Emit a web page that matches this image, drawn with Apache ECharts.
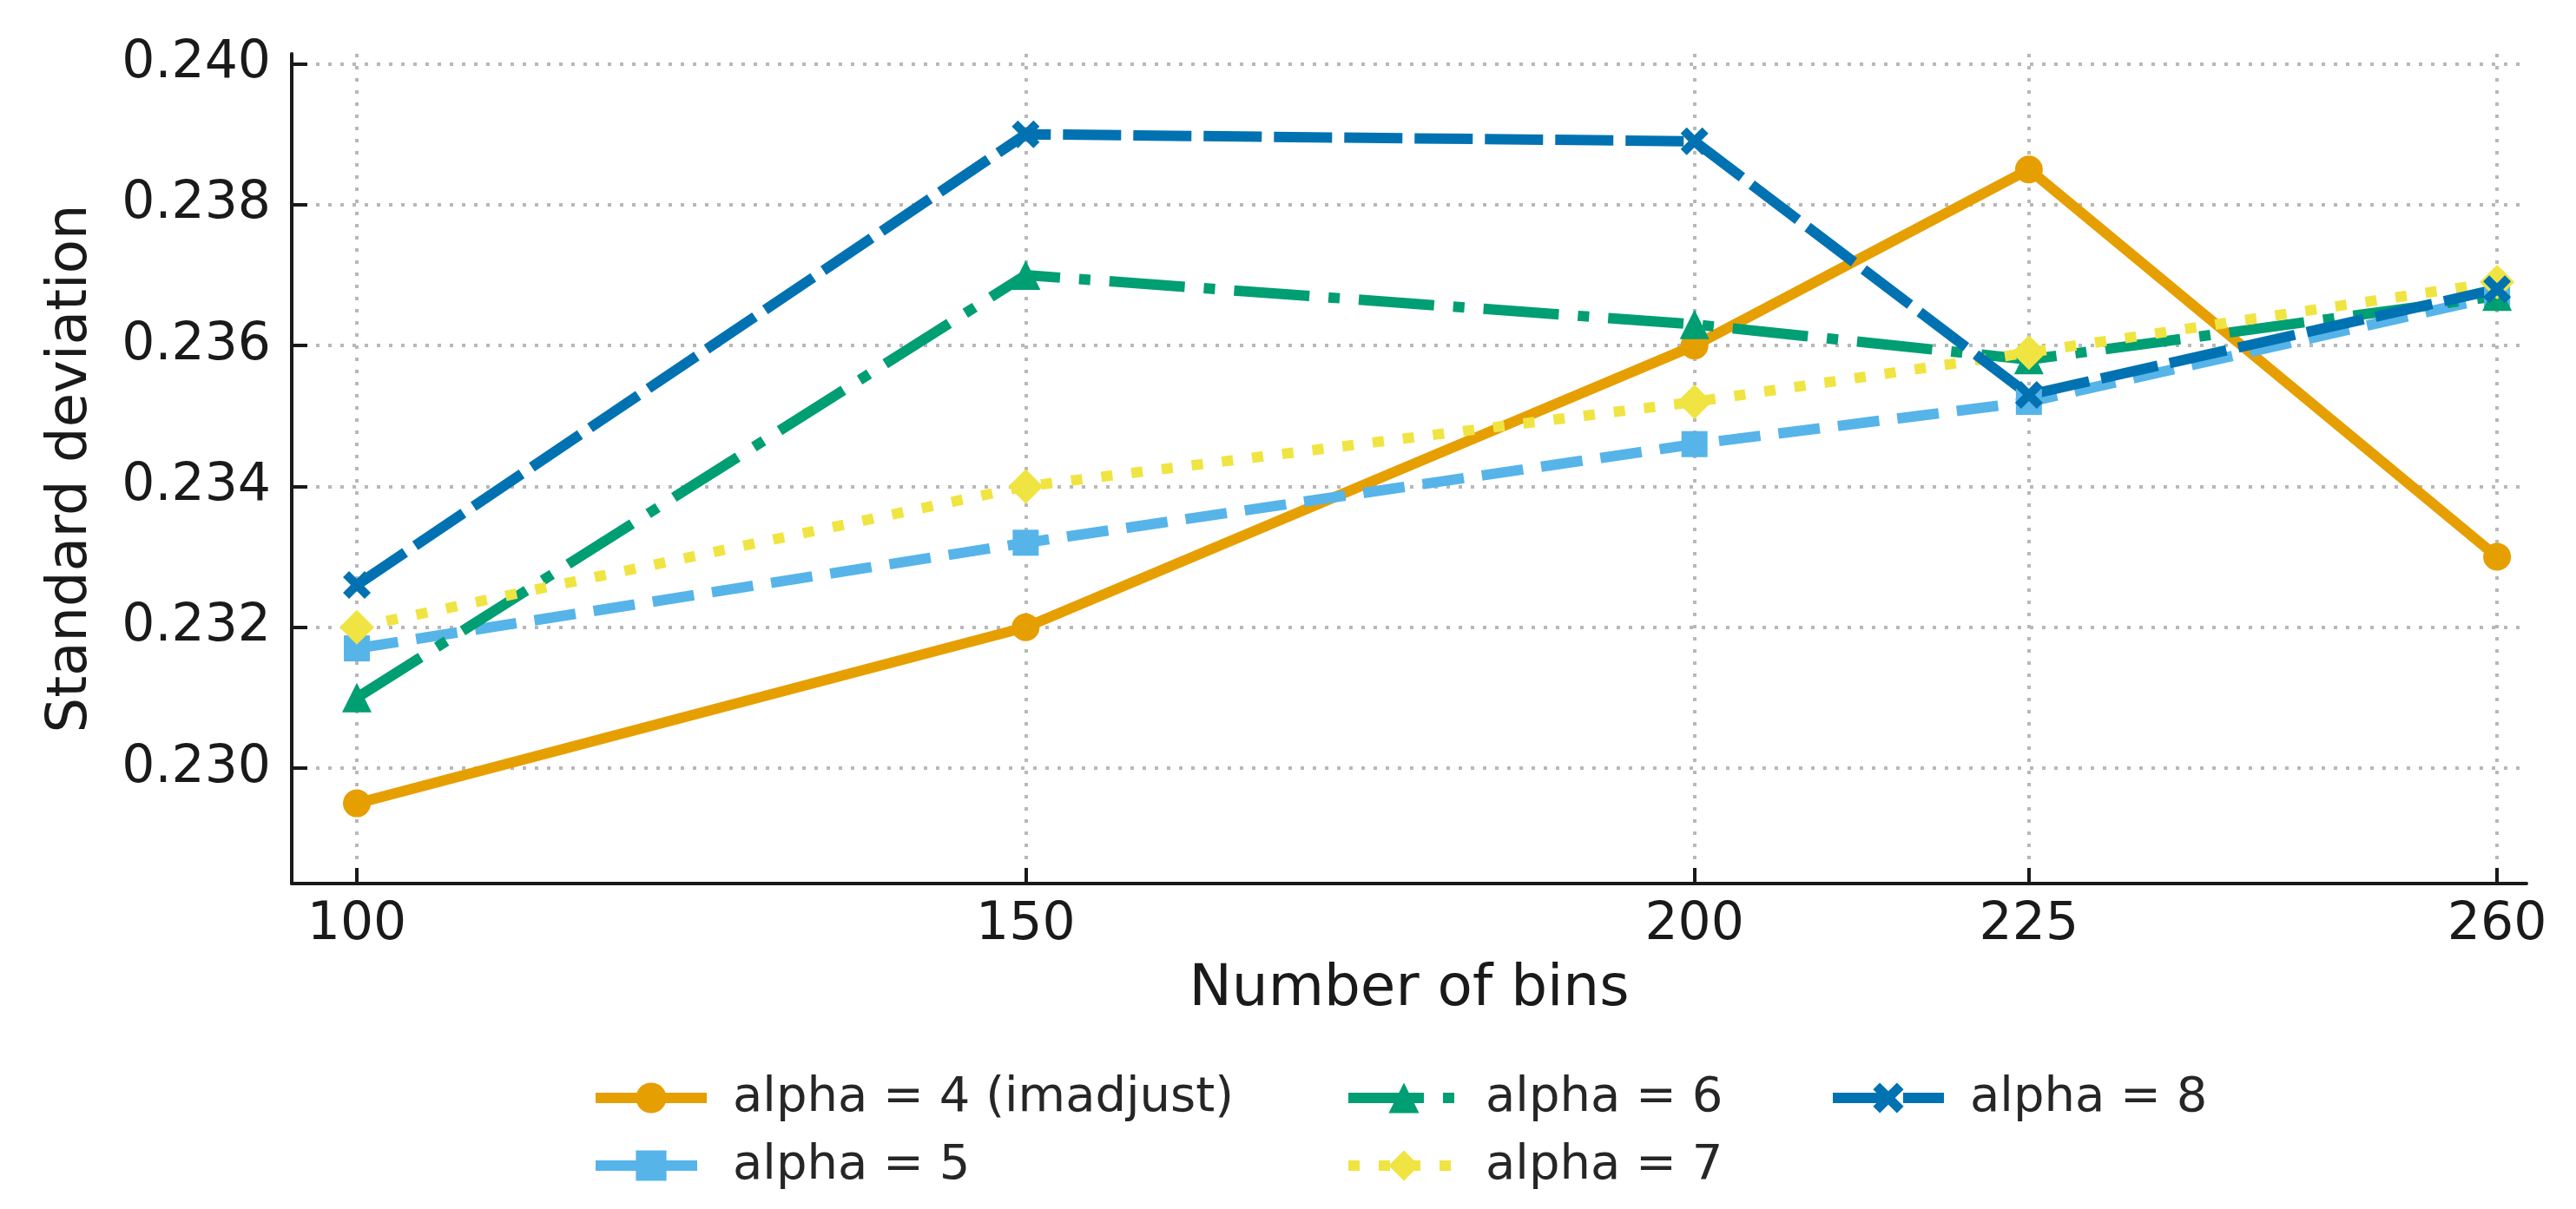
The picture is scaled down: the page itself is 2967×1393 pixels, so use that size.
<!DOCTYPE html>
<html>
<head>
<meta charset="utf-8">
<script src="https://cdn.jsdelivr.net/npm/echarts@6/dist/echarts.min.js"></script>
<style>
	html, body { margin: 0; padding: 0; background: #fff; }
	#chart { width: 2967px; height: 1393px; }
</style>
</head>
<body>
<div id="chart"></div>
<script>
// data
var bins = [100, 150, 200, 225, 260];
var alpha4 = [0.2295, 0.2320, 0.2360, 0.2385, 0.2330];
var alpha5 = [0.2317, 0.2332, 0.2346, 0.2352, 0.2367];
var alpha6 = [0.2310, 0.2370, 0.2363, 0.2358, 0.2367];
var alpha7 = [0.2320, 0.2340, 0.2352, 0.2359, 0.2369];
var alpha8 = [0.2326, 0.2390, 0.2389, 0.2353, 0.2368];
var yTicks = [0.230, 0.232, 0.234, 0.236, 0.238, 0.240];
var names = ['alpha = 4 (imadjust)', 'alpha = 5', 'alpha = 6', 'alpha = 7', 'alpha = 8'];

var font = 'DejaVu Sans';
var xMark = 'path://M0,22L22,0L50,28L78,0L100,22L72,50L100,78L78,100L50,72L22,100L0,78L28,50Z';

function pairs(ys) {
	var out = [];
	for (var i = 0; i < bins.length; i++) {
		out.push([bins[i], ys[i]]);
	}
	return out;
}

//args: [name, values, colour, symbol, symbolSize, dash]
function makeSeries(args) {
	return {
		name: args[0],
		type: 'line',
		data: pairs(args[1]),
		symbol: args[3],
		symbolSize: args[4],
		showAllSymbol: true,
		lineStyle: { color: args[2], width: 12, type: args[5], cap: 'butt' },
		itemStyle: { color: args[2], borderWidth: 0 },
		emphasis: { disabled: true }
	};
}

function makeLegend(data, left) {
	return {
		data: data,
		orient: 'vertical',
		left: left,
		top: 1232,
		itemWidth: 128,
		itemHeight: 44,
		itemGap: 22,
		selectedMode: false,
		lineStyle: { width: 12 },
		textStyle: { fontFamily: font, fontSize: 56, color: '#262626', padding: [0, 0, 0, 25] }
	};
}

var axisLineStyle = { color: '#1a1a1a', width: 4 };
var gridStyle = { color: '#b8b8b8', width: 4, type: [4, 10] };

var options = {
	animation: false,
	backgroundColor: '#fff',
	grid: { left: 336, top: 62, right: 57, bottom: 375 },
	legend: [
		makeLegend([names[0], names[1]], 675),
		makeLegend([names[2], names[3]], 1542),
		makeLegend([names[4]], 2100)
	],
	xAxis: {
		type: 'value',
		min: 95.13,
		max: 262.2,
		name: 'Number of bins',
		nameLocation: 'middle',
		nameGap: 90,
		nameTextStyle: { fontFamily: font, fontSize: 66, color: '#1a1a1a' },
		axisLine: { show: true, onZero: false, lineStyle: axisLineStyle },
		axisTick: { show: true, inside: true, length: 18, customValues: bins, lineStyle: axisLineStyle },
		axisLabel: { customValues: bins, fontFamily: font, fontSize: 60, color: '#1a1a1a', margin: 18 },
		splitLine: { show: true, lineStyle: gridStyle }
	},
	yAxis: {
		type: 'value',
		min: 0.228361,
		max: 0.240142,
		name: 'Standard deviation',
		nameLocation: 'middle',
		nameGap: 222,
		nameTextStyle: { fontFamily: font, fontSize: 64, color: '#1a1a1a' },
		axisLine: { show: true, onZero: false, lineStyle: axisLineStyle },
		axisTick: { show: true, inside: true, length: 18, customValues: yTicks, lineStyle: axisLineStyle },
		axisLabel: {
			customValues: yTicks,
			fontFamily: font, fontSize: 60, color: '#1a1a1a', margin: 24,
			formatter: function (v) { return v.toFixed(3); }
		},
		splitLine: { show: true, lineStyle: gridStyle }
	},
	series: [
		makeSeries([names[0], alpha4, '#E69F00', 'circle', 32, 'solid']),
		makeSeries([names[1], alpha5, '#56B4E9', 'rect', 30, [48, 21]]),
		makeSeries([names[2], alpha6, '#009E73', 'triangle', 34, [87, 22, 13, 22]]),
		makeSeries([names[3], alpha7, '#F0E442', 'diamond', 40, [13, 22]]),
		makeSeries([names[4], alpha8, '#0072B2', xMark, 32, [67, 14]])
	]
};

var Chart = echarts.init(document.getElementById('chart'));
Chart.setOption(options);
</script>
</body>
</html>
